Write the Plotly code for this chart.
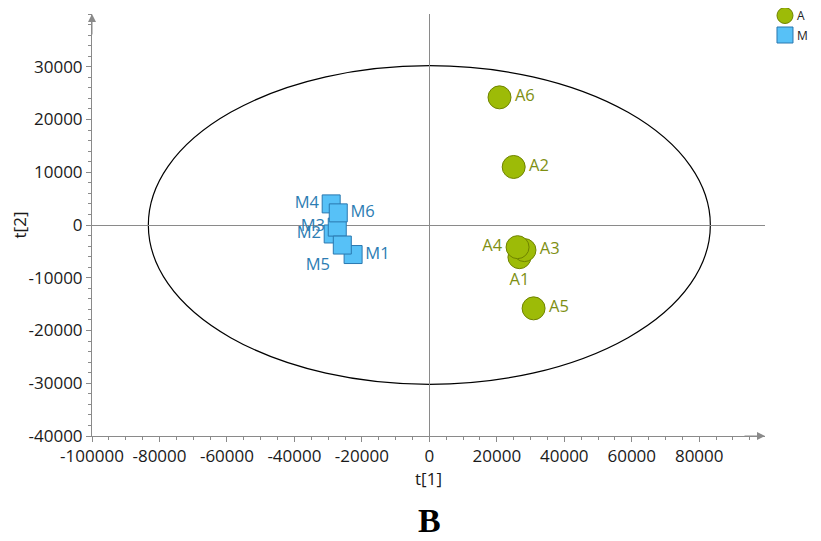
import plotly.graph_objects as go

# Group A scores
a_labels = ["A1", "A2", "A3", "A4", "A5", "A6"]
a_t1 = [26700, 25000, 28200, 26150, 30900, 20800]
a_t2 = [-6100, 11000, -4760, -4200, -15800, 24200]
a_pos = ["bottom center", "middle right", "middle right", "middle left", "middle right", "middle right"]

# Group M scores
m_labels = ["M1", "M2", "M3", "M4", "M5", "M6"]
m_t1 = [-22600, -28500, -27300, -29100, -25800, -27000]
m_t2 = [-5600, -1700, -400, 4000, -3800, 2300]
m_pos = ["middle right", "middle left", "middle left", "middle left", "bottom left", "middle right"]

# Hotelling ellipse semi-axes
ell_a = 83300
ell_b = 30200

x_ticks = [-100000, -80000, -60000, -40000, -20000, 0, 20000, 40000, 60000, 80000]
y_ticks = [-40000, -30000, -20000, -10000, 0, 10000, 20000, 30000]

A_FILL, A_LINE, A_TEXT = "#9DBB07", "#6F8300", "#7E8F12"
M_FILL, M_LINE, M_TEXT = "#57C1F7", "#2A78B0", "#2C7DB3"

FONT = "Open Sans"
fig = go.Figure()

fig.add_trace(go.Scatter(
    x=a_t1, y=a_t2, text=a_labels, mode="markers+text", name="A",
    textposition=a_pos,
    textfont=dict(color=A_TEXT, size=16.5, family=FONT),
    marker=dict(symbol="circle", size=23, color=A_FILL,
                line=dict(color=A_LINE, width=1)),
))
fig.add_trace(go.Scatter(
    x=m_t1, y=m_t2, text=m_labels, mode="markers+text", name="M",
    textposition=m_pos,
    textfont=dict(color=M_TEXT, size=16.5, family=FONT),
    marker=dict(symbol="square", size=18, color=M_FILL,
                line=dict(color=M_LINE, width=1)),
))

fig.add_shape(type="circle", xref="x", yref="y",
              x0=-ell_a, x1=ell_a, y0=-ell_b, y1=ell_b,
              line=dict(color="black", width=1.2), layer="below")

axis_common = dict(
    showgrid=False, showline=True, linecolor="#8a8a8a", linewidth=1,
    zeroline=True, zerolinecolor="#8a8a8a", zerolinewidth=1,
    ticks="outside", ticklen=5, tickcolor="#8a8a8a",
    tickfont=dict(family=FONT, size=17, color="#1a1a1a"),
    automargin=False,
)
fig.update_xaxes(
    range=[-100000, 99500], tickvals=x_ticks, ticktext=[str(v) for v in x_ticks],
    **axis_common,
    minor=dict(dtick=5000, ticks="outside", ticklen=3, tickcolor="#8a8a8a"),
    title=dict(text="t[1]", font=dict(family=FONT, size=17, color="#1a1a1a"), standoff=6),
)
fig.update_yaxes(
    range=[-40000, 40000], tickvals=y_ticks, ticktext=[str(v) for v in y_ticks],
    **axis_common,
    minor=dict(dtick=2000, ticks="outside", ticklen=3, tickcolor="#8a8a8a"),
    title=dict(text="t[2]", font=dict(family=FONT, size=17, color="#1a1a1a"), standoff=6),
)

# axis arrows
fig.add_annotation(x=1, y=0, xref="paper", yref="paper", ax=-22, ay=0,
                   axref="pixel", ayref="pixel", text="", showarrow=True,
                   arrowhead=2, arrowsize=1.6, arrowwidth=1, arrowcolor="#8a8a8a")
fig.add_annotation(x=0, y=1, xref="paper", yref="paper", ax=0, ay=22,
                   text="", showarrow=True,
                   arrowhead=2, arrowsize=1.6, arrowwidth=1, arrowcolor="#8a8a8a")

# compact legend (symbols directly next to their names)
leg_x = 1.0297
leg_items = [("A", "circle", A_FILL, A_LINE, 0.9964),
             ("M", "rect", M_FILL, M_LINE, 0.9502)]
for name, shp, fill, line, ly in leg_items:
    fig.add_shape(type=shp, xref="paper", yref="paper",
                  xsizemode="pixel", ysizemode="pixel",
                  xanchor=leg_x, yanchor=ly, x0=-8, x1=8, y0=-8, y1=8,
                  fillcolor=fill, line=dict(color=line, width=1))
    fig.add_annotation(x=leg_x + 0.0149, y=ly, xref="paper", yref="paper",
                       text=name, showarrow=False, xanchor="left", yanchor="middle",
                       font=dict(family=FONT, size=12, color="#222"))

fig.add_annotation(x=0, xref="x", y=-0.2002, yref="paper", text="<b>B</b>",
                   showarrow=False, yanchor="middle", height=24,
                   font=dict(family="Liberation Serif", size=34, color="black"))

fig.update_layout(
    width=805, height=525,
    margin=dict(l=84, r=48, t=6, b=97, autoexpand=False),
    plot_bgcolor="white", paper_bgcolor="white",
    showlegend=False,
)

fig.write_html("out.html")
